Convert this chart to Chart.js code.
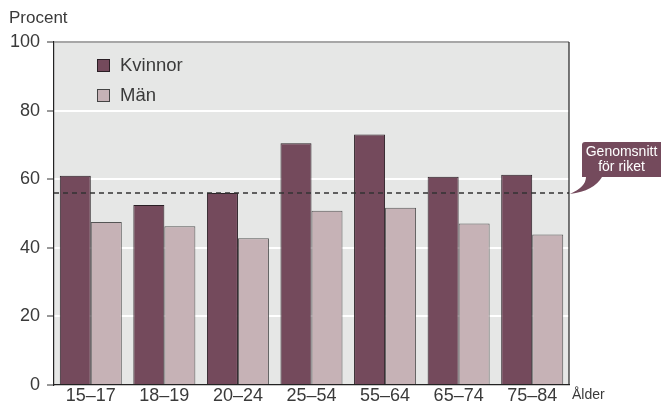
<!DOCTYPE html>
<html>
<head>
<meta charset="utf-8">
<script src="https://cdn.jsdelivr.net/npm/chart.js@4"></script>
<style>
  html, body { margin: 0; padding: 0; background: #fff; }
  #wrap { width: 661px; height: 403px; }
</style>
</head>
<body>
<div id="wrap"><canvas id="grafico"></canvas></div>
<script>
var aldersgrupper = ['15–17', '18–19', '20–24', '25–54', '55–64', '65–74', '75–84'];
var kvinnor = [61, 52.5, 56, 70.5, 73, 60.7, 61.3];
var man = [47.5, 46.3, 42.8, 50.8, 51.7, 47.1, 43.9];
var genomsnitt = 56;
var yTicks = [0, 20, 40, 60, 80, 100];

var FONT = '"Liberation Sans", Arial, sans-serif';
var TEXT = '#3a3a3a';
var KV_FARG = '#744a5c';
var MAN_FARG = '#c6b2b6';

// gray plot background, frame, legend, average line and callout
var dekor = {
    id: 'dekor',
    beforeDraw: function (chart) {
        var a = chart.chartArea, c = chart.ctx;
        c.save();
        c.fillStyle = '#e6e7e6';
        c.fillRect(a.left, a.top, a.right - a.left, a.bottom - a.top);
        c.restore();
    },
    afterDatasetsDraw: function (chart) {
        var a = chart.chartArea, c = chart.ctx;
        var y = chart.scales.y.getPixelForValue(genomsnitt);
        c.save();
        // average line
        c.strokeStyle = '#333';
        c.lineWidth = 1.5;
        c.setLineDash([5, 4]);
        c.beginPath();
        c.moveTo(a.left, y);
        c.lineTo(a.right, y);
        c.stroke();
        c.setLineDash([]);
        // frame top and right
        c.strokeStyle = '#8a8a8a';
        c.lineWidth = 1.5;
        c.beginPath();
        c.moveTo(a.left, a.top);
        c.lineTo(a.right, a.top);
        c.stroke();
        c.strokeStyle = '#222';
        c.lineWidth = 1.2;
        c.beginPath();
        c.moveTo(a.right, a.top);
        c.lineTo(a.right, a.bottom);
        c.stroke();

        // callout
        var bx = 582, by = 142, bw = 79, bh = 35;
        c.fillStyle = KV_FARG;
        c.beginPath();
        c.moveTo(bx + 3, by);
        c.lineTo(bx + bw, by);
        c.lineTo(bx + bw, by + bh);
        c.lineTo(bx + 20, by + bh);
        c.quadraticCurveTo(bx + 12, y - 2, a.right + 1, y + 1);
        c.quadraticCurveTo(bx + 4, y - 6, bx + 4, by + bh);
        c.lineTo(bx, by + bh);
        c.lineTo(bx, by + 3);
        c.quadraticCurveTo(bx, by, bx + 3, by);
        c.closePath();
        c.fill();
        c.fillStyle = '#fff';
        c.font = '14px ' + FONT;
        c.textAlign = 'center';
        c.textBaseline = 'middle';
        c.fillText('Genomsnitt', bx + bw / 2, by + 10);
        c.fillText('för riket', bx + bw / 2, by + 25);

        // legend
        var rows = [[KV_FARG, '#2a1f25', 'Kvinnor'], [MAN_FARG, '#444', 'Män']];
        rows.forEach(function (r, i) {
            var ly = 59 + i * 30;
            c.fillStyle = r[0];
            c.fillRect(97, ly, 12, 12);
            c.strokeStyle = r[1];
            c.lineWidth = 1;
            c.strokeRect(97.5, ly + 0.5, 12, 12);
            c.fillStyle = TEXT;
            c.font = '18.5px ' + FONT;
            c.textAlign = 'left';
            c.textBaseline = 'middle';
            c.fillText(r[2], 120, ly + 6.5);
        });

        // axis titles
        c.font = '17px ' + FONT;
        c.textBaseline = 'middle';
        c.fillText('Procent', 9, 18);
        c.font = '14px ' + FONT;
        c.fillText('Ålder', 572, 395);
        c.restore();
    }
};

var data = {
    labels: aldersgrupper,
    datasets: [{
        label: 'Kvinnor',
        backgroundColor: KV_FARG,
        borderColor: '#2a1f25',
        borderWidth: 1,
        data: kvinnor
    },
    {
        label: 'Män',
        backgroundColor: MAN_FARG,
        borderColor: '#555',
        borderWidth: 1,
        data: man
    }]
};

var options = {
    responsive: true,
    maintainAspectRatio: false,
    animation: false,
    layout: { padding: { top: 42, right: 92, left: 0, bottom: 0 } },
    datasets: { bar: { categoryPercentage: 0.843, barPercentage: 1 } },
    plugins: { legend: { display: false }, tooltip: { enabled: false } },
    scales: {
        x: {
            grid: { display: false, drawTicks: false },
            border: { color: '#222', width: 1.2 },
            ticks: { color: TEXT, font: { family: FONT, size: 18 }, padding: 0 },
            afterFit: function (s) { s.height = 18; }
        },
        y: {
            min: 0,
            max: 100,
            afterBuildTicks: function (s) {
                s.ticks = yTicks.map(function (v) { return { value: v }; });
            },
            grid: { color: '#ffffff', lineWidth: 2, tickColor: '#333', tickLength: 7, tickWidth: 1 },
            border: { color: '#222', width: 1.2 },
            ticks: { color: TEXT, font: { family: FONT, size: 18 }, padding: 7 },
            afterFit: function (s) { s.width = 54; }
        }
    }
};

var ctx = document.querySelector('#grafico').getContext('2d');
var barChart = new Chart(ctx, {
    type: 'bar',
    data: data,
    options: options,
    plugins: [dekor]
});
</script>
</body>
</html>
